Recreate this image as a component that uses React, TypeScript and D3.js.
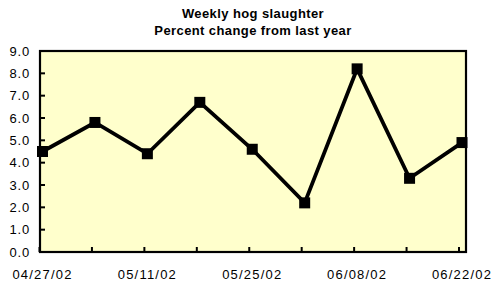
import React from "react";
import * as d3 from "d3";

const titleLines = ["Weekly hog slaughter", "Percent change from last year"];
const weeks = ["04/27/02", "05/04/02", "05/11/02", "05/18/02", "05/25/02", "06/01/02", "06/08/02", "06/15/02", "06/22/02"];
const values = [4.5, 5.8, 4.4, 6.7, 4.6, 2.2, 8.2, 3.3, 4.9];
const xLabels = ["04/27/02", "05/11/02", "05/25/02", "06/08/02", "06/22/02"];
const yTicks = [0, 1, 2, 3, 4, 5, 6, 7, 8, 9];

const W = 502;
const H = 288;
const plot = { left: 40, right: 466, top: 51, bottom: 252 };

export default function App() {
  const x = d3.scalePoint<string>().domain(weeks).range([42.5, 462]);
  const y = d3.scaleLinear().domain([0, 9]).range([plot.bottom, plot.top]);
  const line = d3
    .line<number>()
    .x((_, i) => x(weeks[i]) as number)
    .y((d) => y(d));
  const font = "Arial, 'Liberation Sans', Helvetica, sans-serif";
  return (
    <svg
      width={W}
      height={H}
      style={{ position: "absolute", left: 0, top: 0, background: "#fff" }}
      fontFamily={font}
    >
      {titleLines.map((t, i) => (
        <text
          key={t}
          x={253}
          y={18 + i * 17}
          textAnchor="middle"
          fontWeight="bold"
          fontSize={13}
          letterSpacing={0.4}
          fill="#000"
        >
          {t}
        </text>
      ))}
      <rect
        x={plot.left}
        y={plot.top}
        width={plot.right - plot.left}
        height={plot.bottom - plot.top}
        fill="#FFFFCC"
        stroke="none"
      />
      {yTicks.map((t) => (
        <g key={t}>
          <line x1={plot.left} x2={plot.left + 5} y1={y(t)} y2={y(t)} stroke="#000" strokeWidth={2} />
          <text x={30} y={y(t) + 4.5} textAnchor="end" fontSize={13} letterSpacing={0.8} fill="#000">
            {t.toFixed(1)}
          </text>
        </g>
      ))}
      {weeks.map((w) => (
        <line
          key={w}
          x1={(x(w) as number) - 3}
          x2={(x(w) as number) - 3}
          y1={plot.bottom}
          y2={plot.bottom - 5}
          stroke="#000"
          strokeWidth={2}
        />
      ))}
      {xLabels.map((w) => (
        <text key={w} x={x(w) as number} y={279} textAnchor="middle" fontSize={13} letterSpacing={1.2} fill="#000">
          {w}
        </text>
      ))}
      <rect
        x={plot.left}
        y={plot.top}
        width={plot.right - plot.left}
        height={plot.bottom - plot.top}
        fill="none"
        stroke="#000"
        strokeWidth={2.2}
      />
      <path d={line(values) ?? ""} fill="none" stroke="#000" strokeWidth={3.8} strokeLinejoin="miter" />
      {values.map((v, i) => (
        <rect key={i} x={(x(weeks[i]) as number) - 5.5} y={y(v) - 5.5} width={11} height={11} fill="#000" />
      ))}
    </svg>
  );
}
